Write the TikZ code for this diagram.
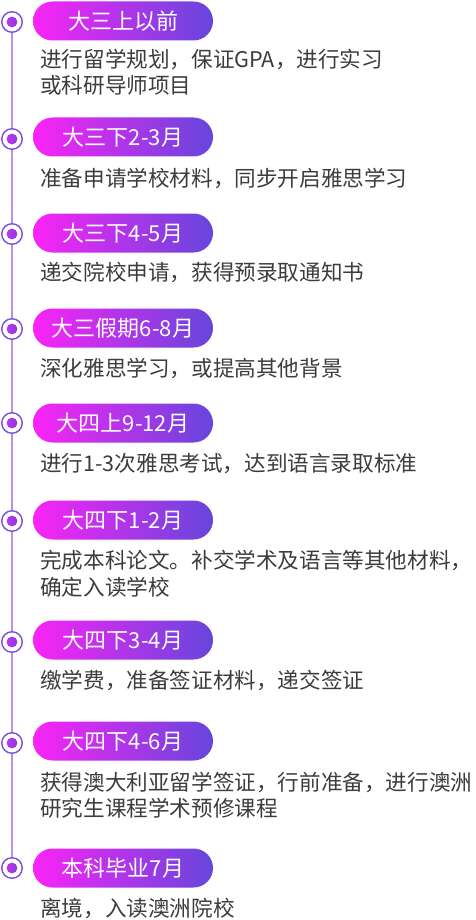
\documentclass[tikz,border=0pt]{standalone}
\usepackage{fontspec}
\setmainfont{Noto Sans CJK SC}
\usetikzlibrary{shapes.misc}
\definecolor{pmag}{HTML}{FA24F6}
\definecolor{ppur}{HTML}{6646DC}
\definecolor{pline}{HTML}{B893EC}
\definecolor{pring}{HTML}{7A4FE2}
\definecolor{dtext}{HTML}{3C3C3C}
\tikzset{
  pill/.style={rounded rectangle, minimum width=180pt, minimum height=39pt, inner sep=0pt,
    left color=pmag, right color=ppur, draw=none, text=white,
    font=\fontsize{22}{24}\selectfont},
  dot/.style={circle, minimum size=20.5pt, inner sep=0pt, draw=pring, line width=1.4pt, fill=white,
    path picture={\shade[left color=pmag!85!ppur, right color=ppur] (path picture bounding box.center) circle (5.4pt);}},
  desc/.style={anchor=base west, inner sep=0pt, text=dtext, font=\fontsize{21.6}{27}\selectfont},
  tline/.style={draw=pline, line width=1.5pt}
}
\begin{document}
\begin{tikzpicture}[x=1pt,y=-1pt]
\useasboundingbox (0,0) rectangle (476,920);
% circles
\node[dot] (c1) at (12,22) {};
\node[dot] (c2) at (12,139) {};
\node[dot] (c3) at (12,234) {};
\node[dot] (c4) at (12,329) {};
\node[dot] (c5) at (12,423) {};
\node[dot] (c6) at (12,521) {};
\node[dot] (c7) at (12,642) {};
\node[dot] (c8) at (12,743) {};
\node[dot] (c9) at (12,868) {};
\draw[tline] (c1.south) -- (c2.north);
\draw[tline] (c2.south) -- (c3.north);
\draw[tline] (c3.south) -- (c4.north);
\draw[tline] (c4.south) -- (c5.north);
\draw[tline] (c5.south) -- (c6.north);
\draw[tline] (c6.south) -- (c7.north);
\draw[tline] (c7.south) -- (c8.north);
\draw[tline] (c8.south) -- (c9.north);
% pills
\node[pill] (p1) at (123,21) {大三上以前};
\node[pill] (p2) at (123,137) {大三下2-3月};
\node[pill] (p3) at (123,233) {大三下4-5月};
\node[pill] (p4) at (123,328) {大三假期6-8月};
\node[pill] (p5) at (123,423) {大四上9-12月};
\node[pill] (p6) at (123,520) {大四下1-2月};
\node[pill] (p7) at (123,640) {大四下3-4月};
\node[pill] (p8) at (123,741) {大四下4-6月};
\node[pill] (p9) at (123,868) {本科毕业7月};
% descriptions
\node[desc] (d1a) at (40,68) {进行留学规划，保证GPA，进行实习};
\node[desc] (d1b) at (40,94) {或科研导师项目};
\node[desc] (d2) at (40,186) {准备申请学校材料，同步开启雅思学习};
\node[desc] (d3) at (40,280) {递交院校申请，获得预录取通知书};
\node[desc] (d4) at (40,376) {深化雅思学习，或提高其他背景};
\node[desc] (d5) at (40,471) {进行1-3次雅思考试，达到语言录取标准};
\node[desc] (d6a) at (40,568) {完成本科论文。补交学术及语言等其他材料，};
\node[desc] (d6b) at (40,595) {确定入读学校};
\node[desc] (d7) at (40,688) {缴学费，准备签证材料，递交签证};
\node[desc] (d8a) at (40,790) {获得澳大利亚留学签证，行前准备，进行澳洲};
\node[desc] (d8b) at (40,816) {研究生课程学术预修课程};
\node[desc] (d9) at (40,916) {离境，入读澳洲院校};
\end{tikzpicture}
\end{document}
